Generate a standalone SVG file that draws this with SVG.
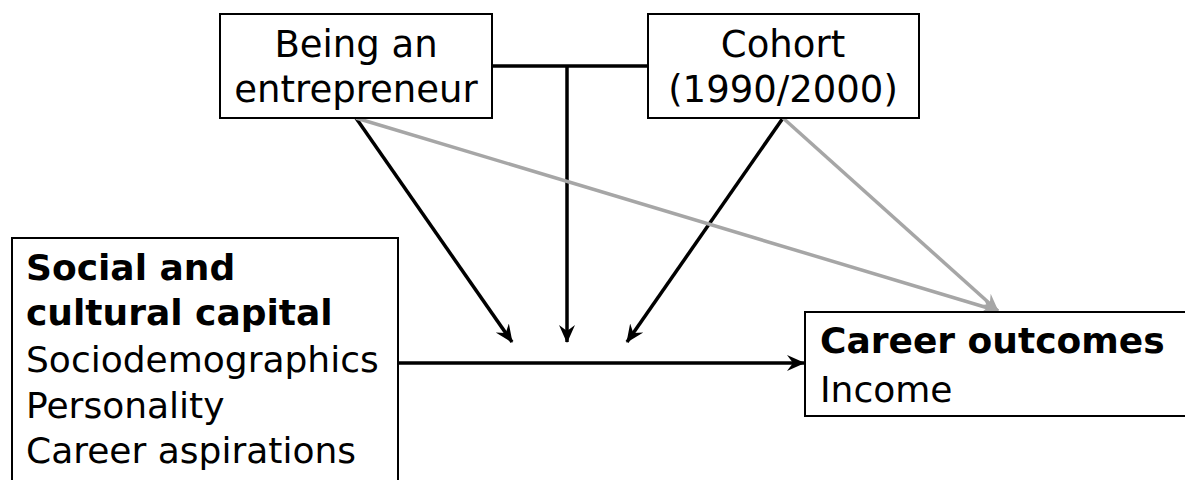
<svg xmlns="http://www.w3.org/2000/svg" width="1185" height="480" viewBox="0 0 1185 480">
<style>
.box{fill:#fff;stroke:#000;stroke-width:2}
.t{font-family:"DejaVu Sans",Verdana,sans-serif;font-size:36px;fill:#000}
.top{font-size:37px;text-anchor:middle}
.b{font-weight:bold}
.k{stroke:#000;stroke-width:3.5;fill:none}
.g{stroke:#a6a6a6;stroke-width:3.5;fill:none}
</style>
<defs>
<marker id="ak" viewBox="0 0 18 18" refX="17" refY="9" markerWidth="18" markerHeight="18" markerUnits="userSpaceOnUse" orient="auto">
<path d="M0,1 L18,9 L0,17 L6,9 Z" fill="#000"/>
</marker>
<marker id="ag" viewBox="0 0 18 18" refX="17" refY="9" markerWidth="18" markerHeight="18" markerUnits="userSpaceOnUse" orient="auto">
<path d="M0,1 L18,9 L0,17 L6,9 Z" fill="#a6a6a6"/>
</marker>
</defs>
<rect width="1185" height="480" fill="#fff"/>
<g id="connectors">
<line class="k" x1="492" y1="66" x2="648" y2="66"/>
<line class="k" x1="567" y1="66" x2="567" y2="342" marker-end="url(#ak)"/>
<line class="k" x1="356" y1="118" x2="512" y2="342" marker-end="url(#ak)"/>
<line class="k" x1="783" y1="118" x2="627" y2="342" marker-end="url(#ak)"/>
<line class="k" x1="398" y1="363" x2="804" y2="363" marker-end="url(#ak)"/>
<line class="g" x1="356" y1="118" x2="998" y2="311" marker-end="url(#ag)"/>
<line class="g" x1="783" y1="118" x2="998" y2="311" marker-end="url(#ag)"/>
</g>
<g id="node-entrepreneur">
<rect class="box" x="220" y="14" width="272" height="104"/>
<text class="t top" x="356" y="57">Being an</text>
<text class="t top" x="356" y="102">entrepreneur</text>
</g>
<g id="node-cohort">
<rect class="box" x="648" y="14" width="271" height="104"/>
<text class="t top" x="783" y="57">Cohort</text>
<text class="t top" x="783" y="102">(1990/2000)</text>
</g>
<g id="node-capital">
<rect class="box" x="12" y="238" width="386" height="260"/>
<text class="t b" x="26" y="280">Social and</text>
<text class="t b" x="26" y="325">cultural capital</text>
<text class="t" x="26" y="372">Sociodemographics</text>
<text class="t" x="26" y="418">Personality</text>
<text class="t" x="26" y="463">Career aspirations</text>
</g>
<g id="node-outcomes">
<rect class="box" x="805" y="312" width="400" height="104"/>
<text class="t b" x="820" y="353">Career outcomes</text>
<text class="t" x="820" y="402">Income</text>
</g>
</svg>
